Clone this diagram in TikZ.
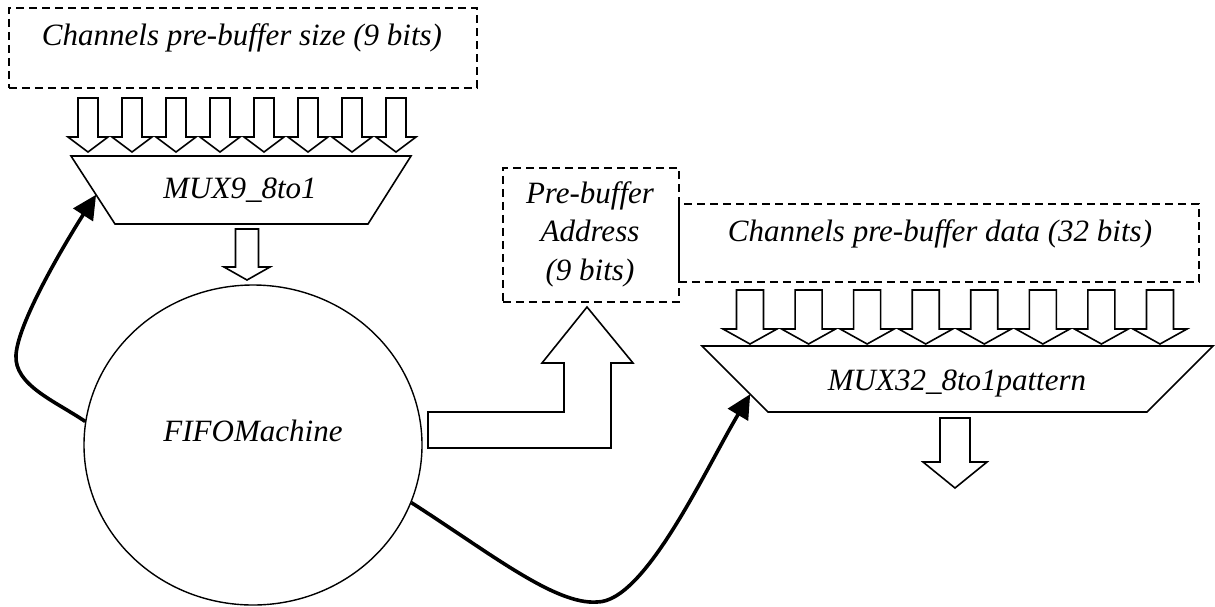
\documentclass[tikz,border=0pt]{standalone}
\usepackage{fontspec}
\setmainfont{Liberation Serif}
\usetikzlibrary{arrows.meta,shapes.geometric,calc}

% hollow block arrow pointing down: centre x, top, neck, tip, shaft half width, head half width
\newcommand\hollowdown[6]{%
  \draw[blk] ({#1-#5},#2) -- ({#1+#5},#2) -- ({#1+#5},#3) -- ({#1+#6},#3)
    -- (#1,#4) -- ({#1-#6},#3) -- ({#1-#5},#3) -- cycle;}

\begin{document}
\begin{tikzpicture}[x=1pt,y=-1pt,
  lbl/.style={font=\fontsize{31}{38.5}\selectfont\itshape, inner sep=0pt, align=center},
  dbox/.style={draw, dash pattern=on 8pt off 5pt, line width=1.7pt, inner sep=0pt},
  blk/.style={draw, line width=1.6pt, fill=white, line join=miter},
  conn/.style={line width=3.6pt, -{Triangle[length=24pt,width=23pt]}},
]
\useasboundingbox (0,0) rectangle (1215,606);

% ---------- dashed source boxes ----------
\node[dbox, anchor=north west, minimum width=468pt, minimum height=80pt] (sizebox) at (8,7) {};
\node[lbl] (sizelbl) at (242,38) {Channels pre-buffer size (9 bits)};

\node[dbox, anchor=north west, minimum width=176pt, minimum height=134pt] (addrbox) at (502,167) {};
\node[lbl] (addrlbl) at (590,234) {Pre-buffer\\Address\\(9 bits)};

\node[dbox, anchor=north west, minimum width=520pt, minimum height=78pt] (databox) at (678,203) {};
\node[lbl] (datalbl) at (940,234) {Channels pre-buffer data (32 bits)};

% ---------- MUX9_8to1 ----------
\coordinate (m9tl) at (71,156);
\coordinate (m9tr) at (411,156);
\coordinate (m9br) at (368,224);
\coordinate (m9bl) at (115,224);
\draw[blk] (m9tl) -- (m9tr) -- (m9br) -- (m9bl) -- cycle;
\node[lbl] (mux9) at (240,190) {MUX9\_8to1};
\coordinate (m9in) at ($(m9tl)!0.57!(m9bl)$);

\foreach \k in {0,...,7} {
  \pgfmathsetmacro\cx{88+44*\k}
  \hollowdown{\cx}{98}{137}{152}{10}{20}
}
\hollowdown{247}{229}{267}{280}{11.5}{23}

% ---------- MUX32_8to1pattern ----------
\coordinate (m32tl) at (702,346);
\coordinate (m32tr) at (1213,346);
\coordinate (m32br) at (1147,412);
\coordinate (m32bl) at (768,412);
\draw[blk] (m32tl) -- (m32tr) -- (m32br) -- (m32bl) -- cycle;
\node[lbl] (mux32) at (957,383) {MUX32\_8to1pattern};
\coordinate (m32in) at ($(m32tl)!0.73!(m32bl)$);

\foreach \k in {0,...,7} {
  \pgfmathsetmacro\cx{750+58.57*\k}
  \hollowdown{\cx}{290}{329}{344}{13.5}{27}
}
\hollowdown{955}{418}{462}{488}{15}{32}

% ---------- FIFOMachine ----------
\node[draw, ellipse, line width=1.4pt, minimum width=338pt, minimum height=320pt, inner sep=0pt]
  (fifo) at (253,445) {};
\node[lbl] (fifolbl) at (253,431) {FIFOMachine};

% address output: bent block arrow up into the address box
\draw[blk] (428,412) -- (564,412) -- (564,363) -- (542,363) -- (587,307)
  -- (633,363) -- (611,363) -- (611,448) -- (428,448) -- cycle;

% ---------- control connectors ----------
\draw[conn] (fifo.172) .. controls (55,401) and (14,385) .. (16,355)
  .. controls (18,320) and (72,232) .. (m9in);
\draw[conn] (fifo.340) .. controls (490,553) and (555,605) .. (597,602)
  .. controls (645,602) and (705,470) .. (m32in);
\end{tikzpicture}
\end{document}
